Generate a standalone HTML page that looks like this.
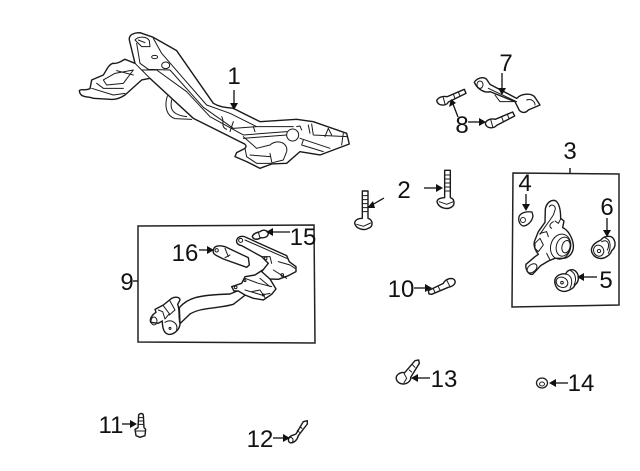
<!DOCTYPE html>
<html><head><meta charset="utf-8"><style>
html,body{margin:0;padding:0;background:#fff}
svg{display:block}
text{font-family:"Liberation Sans",sans-serif;font-size:24px;fill:#111}
.p{fill:#fff;stroke:#1a1a1a;stroke-width:4.2;stroke-linejoin:round;stroke-linecap:round}
.l{fill:none;stroke:#1a1a1a;stroke-width:3;stroke-linejoin:round;stroke-linecap:round}
.a{fill:none;stroke:#111;stroke-width:1.3}
.h{fill:#111;stroke:none}
.b{fill:none;stroke:#222;stroke-width:1.5}
</style></head><body>
<svg width="640" height="471" viewBox="0 0 640 471" xmlns="http://www.w3.org/2000/svg">
<rect width="640" height="471" fill="#fff"/>

<!-- Part 1 -->
<g transform="translate(70,20) scale(0.3333)">
<path class="l" d="M292 228C282 260 290 288 315 296L365 298"/>
<path class="l" d="M305 240C298 270 310 285 350 290"/>
<path class="p" d="M28 212C35 205 45 214 60 206L65 180L100 165C110 150 115 135 128 130C145 132 155 122 165 118L195 130L178 60C176 45 190 38 210 38L250 52L320 92L430 250C450 262 470 262 490 265L570 305L680 298L730 305L830 340L838 372L750 405L690 395L650 430L605 432L570 445L530 425L495 410L500 398L525 385C532 378 525 372 520 370L370 295L240 175L215 180L165 225C150 235 135 240 120 238L70 235C55 228 30 235 28 212Z"/>
<path class="l" d="M195 130L215 150L260 150L350 215L420 290L520 345L650 335M215 150L240 175M200 70L210 130L235 148L300 150L400 262L490 325L560 320L670 320M250 55L275 100L340 175L410 255L480 280L560 320"/>
<path class="l" d="M195 60C205 48 230 48 238 62L240 80L215 80ZM205 60L225 68"/>
<ellipse class="l" cx="254" cy="111" rx="9" ry="5"/>
<ellipse class="l" cx="287" cy="136" rx="12" ry="10"/>
<path class="l" d="M100 180L135 160L190 150L160 190L110 195ZM140 152L190 165M65 205L130 225L165 220M80 190L100 205L160 205"/>
<path class="l" d="M455 290C465 305 450 320 470 328M490 305L480 335M550 320L555 335"/>
<path class="l" d="M520 350L560 385L600 375C625 355 655 370 650 395L640 420L600 430L560 430L530 410L525 385M600 400L605 425M540 405L600 410M520 355L650 345"/>
<circle class="l" cx="668" cy="345" r="18"/>
<path class="l" d="M680 320L690 318L695 330M715 315L720 340M725 312L730 345L830 350M690 355L780 385M700 360L695 375L760 395M765 350L775 325L785 345M820 340L815 375"/>
</g>

<!-- Part 7 and 8 -->
<g transform="translate(420,50) scale(0.3333)">
<path class="p" d="M163 97C170 85 190 78 200 88L210 103L290 145C305 130 335 128 345 142L360 165L325 180C315 192 300 188 295 175L285 155L210 125C195 130 172 118 163 97Z"/>
<ellipse class="l" cx="180" cy="104" rx="9" ry="11"/>
<path class="l" d="M205 115L290 155M225 135L240 155L280 155M320 150C335 145 345 155 345 165"/>
<path class="p" d="M50 152C55 140 72 138 82 140L133 118L138 130L85 156C80 168 55 170 50 152Z"/>
<path class="l" d="M70 143L75 162M100 132L105 146M115 126L120 138"/>
<path class="p" d="M196 220C200 208 215 205 226 208L278 186L284 198L230 226C220 238 198 235 196 220Z"/>
<path class="l" d="M212 208L218 230M245 201L250 214M262 193L267 205"/>
</g>
<path class="a" d="M458 117L453 104"/><path class="h" d="M449 107L456 103L451 99Z"/>
<path class="a" d="M468 122H480"/><path class="h" d="M479 118L486 122L479 126Z"/>
<path class="a" d="M502 73V90"/><path class="h" d="M498 88L506 88L502 95Z"/>

<!-- Part 2 -->
<g transform="translate(340,165) scale(0.3333)">
<path class="p" d="M67 78H84V160C100 165 100 185 85 190C72 198 48 192 44 175C44 165 55 160 67 160Z"/>
<path class="l" d="M67 92H84M67 104H84M67 116H84M67 128H84M67 140H84M50 178L70 184L92 174"/>
<path class="p" d="M314 16H331V98C345 102 345 120 335 126C320 136 295 128 291 110C292 102 302 98 314 98Z"/>
<path class="l" d="M314 30H331M314 42H331M314 54H331M314 66H331M314 78H331M298 110L320 118L340 110"/>
</g>
<path class="a" d="M384 198L372 205"/><path class="h" d="M373 201L375 208L367 208Z"/>
<path class="a" d="M424 188H437"/><path class="h" d="M436 184L443 188L436 192Z"/>

<!-- Box 3 -->
<path class="b" d="M513 173L619 174L619 305L512 307Z"/>
<path class="b" d="M570 168V173"/>
<g transform="translate(520,195) scale(0.3333)">
<path class="p" d="M76 42C80 22 95 12 108 18C120 28 122 50 122 70L132 78L128 98C145 105 158 130 160 150C162 170 150 188 130 190L105 190L85 198L62 212L38 238C25 240 15 222 18 208L45 185L55 178C45 165 38 150 45 135L55 110L75 82Z"/>
<path class="l" d="M88 35C95 25 106 32 106 42L100 60L90 75L72 100L60 118M122 72L115 85L105 78M100 80C90 85 85 95 95 100"/>
<ellipse class="l" cx="122" cy="155" rx="30" ry="38" transform="rotate(15 122 155)"/>
<ellipse class="l" cx="130" cy="155" rx="21" ry="29" transform="rotate(15 130 155)"/>
<ellipse class="l" cx="138" cy="155" rx="12" ry="19" transform="rotate(15 138 155)"/>
<path class="l" d="M45 145L60 130L70 150L55 170L45 160ZM60 115L80 110L85 125M80 175L90 195"/>
<ellipse class="l" cx="36" cy="220" rx="17" ry="11" transform="rotate(-40 36 220)"/>
</g>
<!-- Part 4 -->
<path class="p" style="stroke-width:1.3" d="M519 217C520 213 526 211 532 212L533 216C532 222 527 226 523 226C520 225 518 221 519 217Z"/>
<circle class="b" cx="523" cy="220" r="2.5" style="stroke-width:1"/>
<path class="a" d="M526 194V205"/><path class="h" d="M522 204H530L526 211Z"/>
<!-- Part 6, 5 -->
<g transform="translate(500,160) scale(0.3333)">
<path class="p" d="M303 240C310 228 330 226 338 233C348 245 348 262 335 272C332 285 312 298 298 295C280 292 272 275 275 265C278 252 292 245 303 240Z"/>
<path class="l" d="M305 245C325 235 330 255 322 270M315 233C335 240 332 265 325 280"/>
<ellipse class="l" cx="296" cy="272" rx="15" ry="17" transform="rotate(-25 296 272)"/>
<circle class="l" cx="297" cy="273" r="5"/>
<path class="p" d="M165 358C170 345 185 340 197 342C203 328 220 325 228 335C238 345 238 365 225 375C220 388 195 398 185 393C170 390 162 372 165 358Z"/>
<path class="l" d="M197 342C215 345 220 365 210 385M212 332C228 340 230 360 222 375"/>
<ellipse class="l" cx="186" cy="367" rx="18" ry="15" transform="rotate(25 186 367)"/>
<circle class="l" cx="186" cy="368" r="4"/>
</g>
<path class="a" d="M607 218V232"/><path class="h" d="M603 230H611L607 237Z"/>
<path class="a" d="M582 277H597"/><path class="h" d="M584 273V281L577 277Z"/>

<!-- Box 9 -->
<path class="b" d="M138 226L314 225L315 343L138 342Z"/>
<path class="b" d="M133 281H138"/>
<g transform="translate(130,215) scale(0.3333)">
<!-- lower arm -->
<path class="p" d="M148 278C172 250 200 240 300 237L332 224L346 240L310 268C262 282 215 276 180 297L150 326Z"/>
<!-- left bush -->
<path class="p" d="M62 322C58 310 68 298 78 292L75 283L100 270L125 250C135 245 150 245 150 255L143 268C150 285 145 305 150 325C150 345 130 360 115 358C103 355 97 340 97 318L84 325Z"/>
<path class="l" d="M100 272L118 296L105 312L98 290L85 285M120 258L135 285L118 300M105 322C125 310 145 325 140 345"/>
<ellipse class="l" cx="72" cy="318" rx="9" ry="12"/>
<circle class="l" cx="120" cy="340" r="3"/>
<!-- middle bracket -->
<path class="p" d="M305 215L335 205L345 185L375 180L398 165L420 192L438 222L425 238L400 255L370 250L345 240L325 228L312 228Z"/>
<path class="l" d="M345 190L385 205L425 215M345 225L395 240L420 235M390 190L420 215M365 230L390 225L405 248"/>
<circle class="l" cx="317" cy="217" r="4"/><circle class="l" cx="400" cy="240" r="3"/><circle class="l" cx="345" cy="197" r="3"/>
<!-- upper arm -->
<path class="p" d="M320 75C325 62 340 62 350 68L470 122L478 140L498 155L498 170L475 182L445 193L420 192L395 170L415 145L395 125L335 92C325 90 318 85 320 75Z"/>
<path class="l" d="M345 75L470 130M395 125L420 125L425 145M445 140L480 150L495 160M430 165L470 190"/>
<circle class="l" cx="407" cy="130" r="4"/><circle class="l" cx="457" cy="180" r="4"/>
<circle class="l" cx="332" cy="76" r="6"/>
<!-- 16 -->
<path class="p" d="M250 105C252 92 268 90 285 95L355 128L358 150L350 157L280 132L260 122C252 118 248 112 250 105Z"/>
<path class="l" d="M285 100L295 125M300 120L285 128"/>
<circle class="l" cx="260" cy="106" r="5"/>
<!-- 15 -->
<path class="p" d="M367 64C370 55 382 52 390 50C400 42 414 46 415 56C414 66 402 70 392 68C385 74 370 76 367 64Z"/>
<path class="l" d="M385 52L390 68"/>
</g>
<path class="a" d="M199 250H208"/><path class="h" d="M207 246L214 250L207 254Z"/>
<path class="a" d="M272 232H290"/><path class="h" d="M273 228V236L266 232Z"/>

<!-- Part 10, 13 -->
<g transform="translate(380,270) scale(0.3333)">
<path class="p" d="M145 62L190 40C196 28 212 22 222 28C230 36 224 48 205 52L155 73L147 72Z"/>
<path class="l" d="M200 30L210 50M160 56L165 68M175 50L180 60"/>
<path class="p" d="M105 272L116 270L118 280L92 322C94 332 82 342 70 342C55 342 45 330 50 318C55 310 65 306 74 308Z"/>
<path class="l" d="M72 310L80 325L72 338M98 285L105 292M88 300L95 306"/>
</g>
<path class="a" d="M414 288H426"/><path class="h" d="M425 284L432 288L425 292Z"/>
<path class="a" d="M416 378H430"/><path class="h" d="M418 374V382L411 378Z"/>

<!-- Part 11, 12 -->
<g transform="translate(90,405) scale(0.3333)">
<path class="p" d="M146 30C150 24 158 24 160 30L162 68L167 73L165 92L150 97L138 92L135 73L144 68Z"/>
<path class="l" d="M147 38H161M146 48H161M146 58H162M137 78H165"/>
<path class="p" d="M640 50L652 47L652 57L625 92C622 104 612 116 600 113C592 108 595 96 605 92L618 87Z"/>
<path class="l" d="M598 98C605 95 612 102 608 110M630 65L636 70M622 76L628 82"/>
</g>
<path class="a" d="M122 424H131"/><path class="h" d="M130 420L137 424L130 428Z"/>
<path class="a" d="M273 438H284"/><path class="h" d="M283 434L290 438L283 442Z"/>

<!-- Part 14 -->
<ellipse cx="542" cy="383" rx="5.5" ry="5" fill="#fff" stroke="#222" stroke-width="1.3"/>
<ellipse cx="542" cy="384" rx="2.5" ry="2" fill="none" stroke="#222" stroke-width="1"/>
<path class="a" d="M553 383H568"/><path class="h" d="M556 379V387L549 383Z"/>

<!-- Part 1 arrow -->
<path class="a" d="M234 90V104"/><path class="h" d="M230 103H238L234 110Z"/>
<text x="234" y="84" text-anchor="middle">1</text>
<text x="404" y="198" text-anchor="middle">2</text>
<text x="570" y="159" text-anchor="middle">3</text>
<text x="525" y="191" text-anchor="middle">4</text>
<text x="606" y="288" text-anchor="middle">5</text>
<text x="607" y="215" text-anchor="middle">6</text>
<text x="506" y="71" text-anchor="middle">7</text>
<text x="462" y="133" text-anchor="middle">8</text>
<text x="127" y="290" text-anchor="middle">9</text>
<text x="401" y="297" text-anchor="middle">10</text>
<text x="111" y="433" text-anchor="middle">11</text>
<text x="260" y="447" text-anchor="middle">12</text>
<text x="444" y="387" text-anchor="middle">13</text>
<text x="581" y="391" text-anchor="middle">14</text>
<text x="303" y="245" text-anchor="middle">15</text>
<text x="185" y="261" text-anchor="middle">16</text>
</svg>
</body></html>
